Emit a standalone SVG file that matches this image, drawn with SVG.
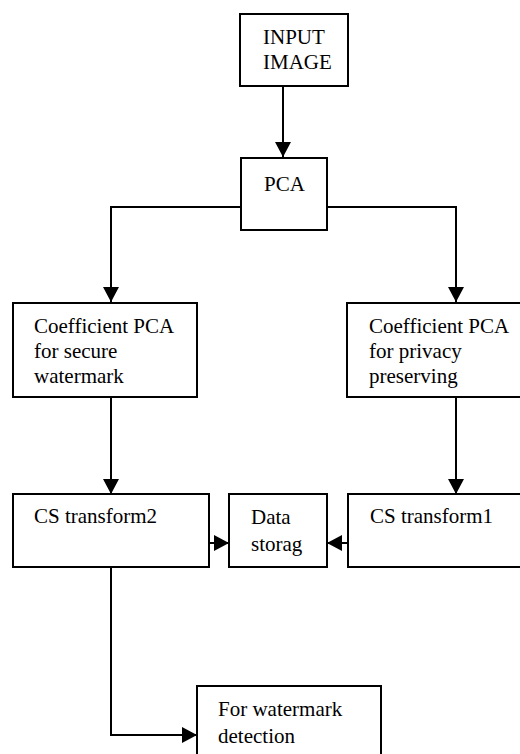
<svg xmlns="http://www.w3.org/2000/svg" width="520" height="754" viewBox="0 0 520 754">
<style>
  .box { fill: #ffffff; stroke: #000000; stroke-width: 2; }
  .lbl { font-family: "Liberation Serif", "Times New Roman", serif; font-size: 21px; fill: #000000; }
  .wire { fill: none; stroke: #000000; stroke-width: 2; }
</style>
<defs>
  <marker id="ah" markerUnits="userSpaceOnUse" markerWidth="15" markerHeight="16" refX="15" refY="8" orient="auto" viewBox="0 0 15 16">
    <path d="M0,0 L15,8 L0,16 Z" fill="#000000"/>
  </marker>
</defs>
<rect x="0" y="0" width="520" height="754" fill="#ffffff"/>
<g id="connectors">
  <path class="wire" d="M283,86 L283,157" marker-end="url(#ah)"/>
  <path class="wire" d="M241,207 L111,207 L111,302" marker-end="url(#ah)"/>
  <path class="wire" d="M327,207 L456,207 L456,302" marker-end="url(#ah)"/>
  <path class="wire" d="M111,397 L111,494" marker-end="url(#ah)"/>
  <path class="wire" d="M456,397 L456,494" marker-end="url(#ah)"/>
  <path class="wire" d="M209,543 L229,543" marker-end="url(#ah)"/>
  <path class="wire" d="M348,543 L327,543" marker-end="url(#ah)"/>
  <path class="wire" d="M111,567 L111,735 L197,735" marker-end="url(#ah)"/>
</g>
<g id="input-image">
  <rect class="box" x="240" y="14" width="108" height="72"/>
  <text class="lbl" x="263" y="44">INPUT</text>
  <text class="lbl" x="263" y="69">IMAGE</text>
</g>
<g id="pca">
  <rect class="box" x="241" y="158" width="86" height="72"/>
  <text class="lbl" x="264" y="191">PCA</text>
</g>
<g id="coef-watermark">
  <rect class="box" x="13" y="303" width="184" height="94"/>
  <text class="lbl" x="34" y="333">Coefficient PCA</text>
  <text class="lbl" x="34" y="358">for secure</text>
  <text class="lbl" x="34" y="383">watermark</text>
</g>
<g id="coef-privacy">
  <rect class="box" x="347" y="303" width="175" height="94"/>
  <text class="lbl" x="369" y="333">Coefficient PCA</text>
  <text class="lbl" x="369" y="358">for privacy</text>
  <text class="lbl" x="369" y="383">preserving</text>
</g>
<g id="cs-transform2">
  <rect class="box" x="13" y="494" width="196" height="73"/>
  <text class="lbl" x="34" y="523">CS transform2</text>
</g>
<g id="data-storage">
  <rect class="box" x="229" y="494" width="98" height="73"/>
  <text class="lbl" x="251" y="524">Data</text>
  <text class="lbl" x="251" y="551">storag</text>
</g>
<g id="cs-transform1">
  <rect class="box" x="348" y="494" width="174" height="73"/>
  <text class="lbl" x="370" y="523">CS transform1</text>
</g>
<g id="watermark-detection">
  <rect class="box" x="197" y="686" width="184" height="80"/>
  <text class="lbl" x="218" y="716">For watermark</text>
  <text class="lbl" x="218" y="743">detection</text>
</g>
</svg>
